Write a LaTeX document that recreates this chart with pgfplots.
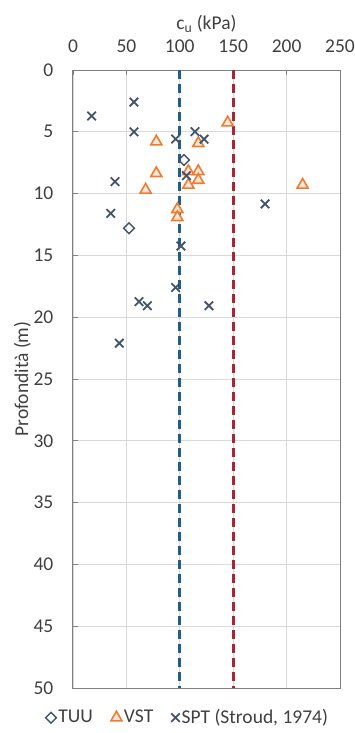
\documentclass[border=0pt]{standalone}
\usepackage{pgfplots}
\pgfplotsset{compat=1.18}
\usepackage{fontspec}
\setmainfont{Carlito}
\definecolor{sptc}{RGB}{68,84,106}
\definecolor{vstc}{RGB}{237,125,49}
\definecolor{vstf}{RGB}{251,229,214}
\definecolor{bluel}{RGB}{31,95,139}
\definecolor{redl}{RGB}{170,35,55}
\definecolor{gridc}{RGB}{217,217,217}
\definecolor{framec}{RGB}{128,128,128}
\definecolor{txtc}{RGB}{64,64,64}
\begin{document}
\fontsize{19.5}{23}\selectfont
\begin{tikzpicture}
\path[use as bounding box] (-73pt,-45pt) rectangle (281pt,688pt);
\begin{axis}[
  at={(0pt,0pt)}, anchor=south west,
  scale only axis,
  width=267pt, height=618pt,
  xmin=0, xmax=250, ymin=0, ymax=50,
  y dir=reverse,
  xtick={0,50,...,250}, ytick={0,5,...,50},
  xticklabel pos=upper,
  tick pos=left,
  tick align=inside,
  major tick length=5pt,
  every tick/.style={framec, line width=0.8pt},
  xtick pos=upper,
  grid=major,
  major grid style={gridc, line width=0.8pt},
  axis line style={framec, line width=1pt},
  tick label style={font=\fontsize{19.5}{23}\selectfont, text=txtc},
  /pgf/number format/assume math mode=true,
  xticklabel style={yshift=11pt},
  yticklabel style={xshift=-13pt},
  xlabel={c\textsubscript{u} (kPa)},
  ylabel={Profondità (m)},
  label style={font=\fontsize{19.5}{23}\selectfont, text=txtc},
  xlabel style={at={(axis description cs:0.5,1.074)}, anchor=center},
  ylabel style={at={(axis description cs:-0.19,0.5)}, anchor=center},
  legend style={at={(axis description cs:0.43,-0.048)}, anchor=center,
    draw=none, fill=none, legend columns=-1,
    font=\fontsize{19.5}{23}\selectfont, text=txtc,
    /tikz/every even column/.append style={column sep=16pt}},
  legend cell align=left,
  clip=false,
]
\addplot[only marks, mark=square, mark size=3.8pt, mark options={draw=sptc, fill=white, line width=1.4pt, rotate=45}]
  coordinates {(103.9,7.28) (52.4,12.8)};
\addlegendentry{TUU}
\addplot[only marks, mark=triangle*, mark size=6.4pt, mark options={draw=vstc, fill=vstf, line width=1.6pt}]
  coordinates {(144.8,4.26) (78,5.8) (117.3,5.93) (78,8.36) (108,8.2) (117.3,8.2)
   (108,9.3) (117.3,8.9) (68,9.7) (215,9.3) (97.7,11.27) (97.7,11.92)};
\addlegendentry{VST}
\addplot[only marks, mark=x, mark size=6pt, mark options={draw=sptc, line width=1.8pt}]
  coordinates {(17.5,3.72) (57.1,2.59) (57.1,5.0) (96.1,5.58) (114.2,4.99) (122.7,5.6)
   (39.3,9.03) (106.2,8.55) (179.8,10.84) (35.3,11.6) (101.1,14.24) (96.1,17.6)
   (61.8,18.74) (69.6,19.07) (127.3,19.07) (43.4,22.1)};
\addlegendentry{SPT (Stroud, 1974)}
\addplot[bluel, line width=2.6pt, dash pattern=on 9pt off 5pt, forget plot] coordinates {(100,0) (100,50)};
\addplot[redl, line width=2.6pt, dash pattern=on 9pt off 5pt, forget plot] coordinates {(150,0) (150,50)};
\end{axis}
\end{tikzpicture}
\end{document}
